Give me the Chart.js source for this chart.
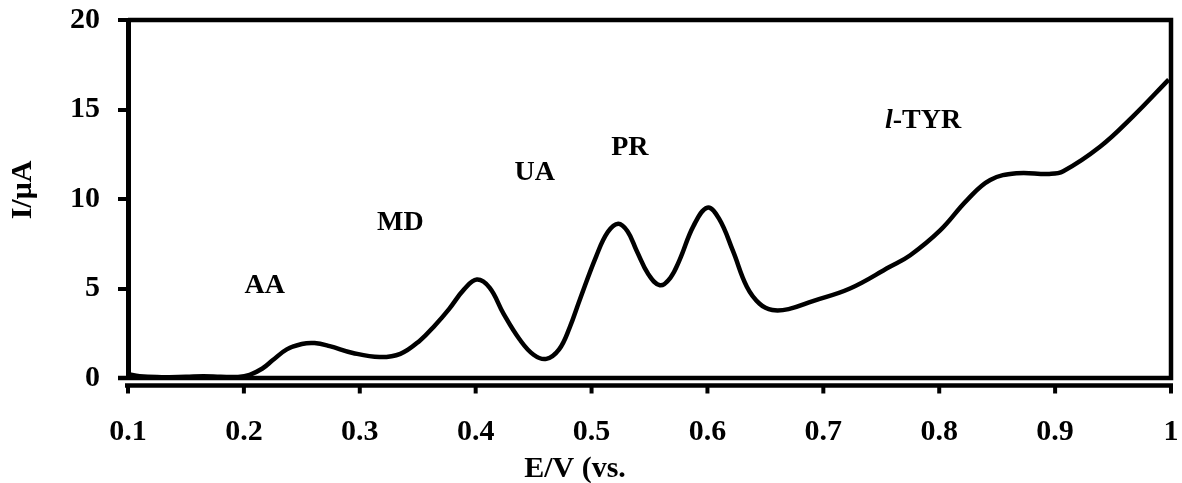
<!DOCTYPE html>
<html>
<head>
<meta charset="utf-8">
<script src="https://cdn.jsdelivr.net/npm/chart.js@4.4.1/dist/chart.umd.min.js"></script>
<style>
  body { margin: 0; background: #fff; }
  canvas { display: block; }
</style>
</head>
<body>
<canvas id="voltammogram" width="1182" height="483"></canvas>
<script>
// potential (V) and current (uA)
const potential = [
  0.100, 0.110, 0.125, 0.150, 0.165, 0.180, 0.195, 0.205, 0.216, 0.225,
  0.237, 0.250, 0.261, 0.274, 0.294, 0.317, 0.335, 0.352, 0.365, 0.377,
  0.390, 0.401, 0.412, 0.424, 0.438, 0.450, 0.461, 0.472, 0.481, 0.490,
  0.504, 0.514, 0.523, 0.531, 0.539, 0.549, 0.559, 0.568, 0.576, 0.588,
  0.600, 0.610, 0.622, 0.634, 0.645, 0.656, 0.670, 0.691, 0.723, 0.757,
  0.775, 0.801, 0.824, 0.844, 0.867, 0.895, 0.907, 0.939, 0.967, 0.998
];
const current = [
  0.22, 0.10, 0.05, 0.07, 0.10, 0.07, 0.06, 0.18, 0.53, 1.00,
  1.60, 1.90, 1.95, 1.78, 1.40, 1.17, 1.35, 2.10, 2.95, 3.85,
  4.95, 5.50, 5.05, 3.60, 2.15, 1.30, 1.07, 1.60, 2.80, 4.40,
  6.80, 8.15, 8.62, 8.20, 7.10, 5.80, 5.18, 5.60, 6.60, 8.50,
  9.52, 8.90, 7.10, 5.10, 4.15, 3.80, 3.85, 4.30, 5.00, 6.20,
  6.86, 8.26, 9.94, 11.06, 11.44, 11.40, 11.55, 12.93, 14.60, 16.67
];

const xTickValues = [0.1, 0.2, 0.3, 0.4, 0.5, 0.6, 0.7, 0.8, 0.9, 1.0];
const xTickLabels = ['0.1', '0.2', '0.3', '0.4', '0.5', '0.6', '0.7', '0.8', '0.9', '1'];
const yTickValues = [0, 5, 10, 15, 20];

// peak labels, placed in data units
const peakNames = ['AA', 'MD', 'UA', 'PR', 'l-TYR'];
const peakLabelX = [0.218, 0.335, 0.451, 0.533, 0.786];
const peakLabelY = [5.14, 8.66, 11.45, 12.85, 14.36];

const xTitle = 'E/V (vs.';
const yTitle = 'I/\u03bcA';

const SERIF = '"Liberation Serif", "Times New Roman", serif';

const frameAndLabels = {
  id: 'frameAndLabels',
  afterDraw(chart) {
    const ctx = chart.ctx;
    const a = chart.chartArea;
    const xs = chart.scales.x;
    ctx.save();
    ctx.strokeStyle = '#000';

    // box around the plot
    ctx.lineWidth = 4.5;
    ctx.beginPath();
    ctx.moveTo(a.left, a.top);
    ctx.lineTo(a.right, a.top);
    ctx.lineTo(a.right, a.bottom);
    ctx.lineTo(a.left - 10, a.bottom);
    ctx.stroke();

    // x axis sits a bit below the box
    const axisY = a.bottom + 7.5;
    ctx.beginPath();
    ctx.moveTo(a.left - 3, axisY);
    ctx.lineTo(a.right + 2, axisY);
    ctx.stroke();
    ctx.lineWidth = 4;
    xTickValues.forEach((v) => {
      const px = xs.getPixelForValue(v);
      ctx.beginPath();
      ctx.moveTo(px, axisY);
      ctx.lineTo(px, axisY + 8);
      ctx.stroke();
    });

    // peak labels
    ctx.fillStyle = '#000';
    ctx.textBaseline = 'middle';
    peakNames.forEach((name, i) => {
      const px = xs.getPixelForValue(peakLabelX[i]);
      const py = chart.scales.y.getPixelForValue(peakLabelY[i]);
      if (name.startsWith('l-')) {
        ctx.font = 'italic bold 28px ' + SERIF;
        const head = 'l';
        const rest = name.slice(1);
        const w1 = ctx.measureText(head).width;
        ctx.font = 'bold 28px ' + SERIF;
        const w2 = ctx.measureText(rest).width;
        const start = px - (w1 + w2) / 2;
        ctx.textAlign = 'left';
        ctx.font = 'italic bold 28px ' + SERIF;
        ctx.fillText(head, start, py);
        ctx.font = 'bold 28px ' + SERIF;
        ctx.fillText(rest, start + w1, py);
      } else {
        ctx.font = 'bold 28px ' + SERIF;
        ctx.textAlign = 'center';
        ctx.fillText(name, px, py);
      }
    });

    // axis titles
    ctx.font = 'bold 30px ' + SERIF;
    ctx.textAlign = 'center';
    ctx.textBaseline = 'alphabetic';
    ctx.fillText(xTitle, 575, 477);

    ctx.translate(23, 190);
    ctx.rotate(-Math.PI / 2);
    ctx.textBaseline = 'middle';
    ctx.fillText(yTitle, 0, 0);
    ctx.restore();
  }
};

const ctx = document.getElementById('voltammogram').getContext('2d');
new Chart(ctx, {
  type: 'line',
  data: {
    datasets: [
      {
        label: 'DPV',
        data: potential.map((x, i) => ({ x: x, y: current[i] })),
        borderColor: '#000',
        borderWidth: 4.5,
        pointRadius: 0,
        fill: false,
        tension: 0.4,
      },
    ],
  },
  options: {
    responsive: false,
    animation: false,
    layout: {
      autoPadding: false,
      padding: { top: 20, right: 11, left: 0, bottom: 0 },
    },
    scales: {
      x: {
        type: 'linear',
        min: 0.1,
        max: 1.0,
        afterFit: (scale) => {
          scale.height = 105;
          scale.paddingLeft = 0;
          scale.paddingRight = 0;
        },
        afterBuildTicks: (scale) => {
          scale.ticks = xTickValues.map((v) => ({ value: v }));
        },
        ticks: {
          color: '#000',
          padding: 36,
          maxRotation: 0,
          autoSkip: false,
          font: { family: SERIF, size: 30, weight: 'bold' },
          callback: (value, index) => xTickLabels[index],
        },
        grid: { display: false, drawTicks: false },
        border: { display: false },
      },
      y: {
        min: 0,
        max: 20,
        afterFit: (scale) => {
          scale.width = 128;
          scale.paddingTop = 0;
          scale.paddingBottom = 0;
        },
        afterBuildTicks: (scale) => {
          scale.ticks = yTickValues.map((v) => ({ value: v }));
        },
        ticks: {
          color: '#000',
          padding: 18,
          font: { family: SERIF, size: 30, weight: 'bold' },
        },
        grid: {
          drawOnChartArea: false,
          drawTicks: true,
          tickLength: 10,
          lineWidth: 4,
          color: '#000',
        },
        border: { display: true, color: '#000', width: 5 },
      },
    },
    plugins: {
      legend: { display: false },
      tooltip: { enabled: false },
      title: { display: false },
    },
  },
  plugins: [frameAndLabels],
});
</script>
</body>
</html>
